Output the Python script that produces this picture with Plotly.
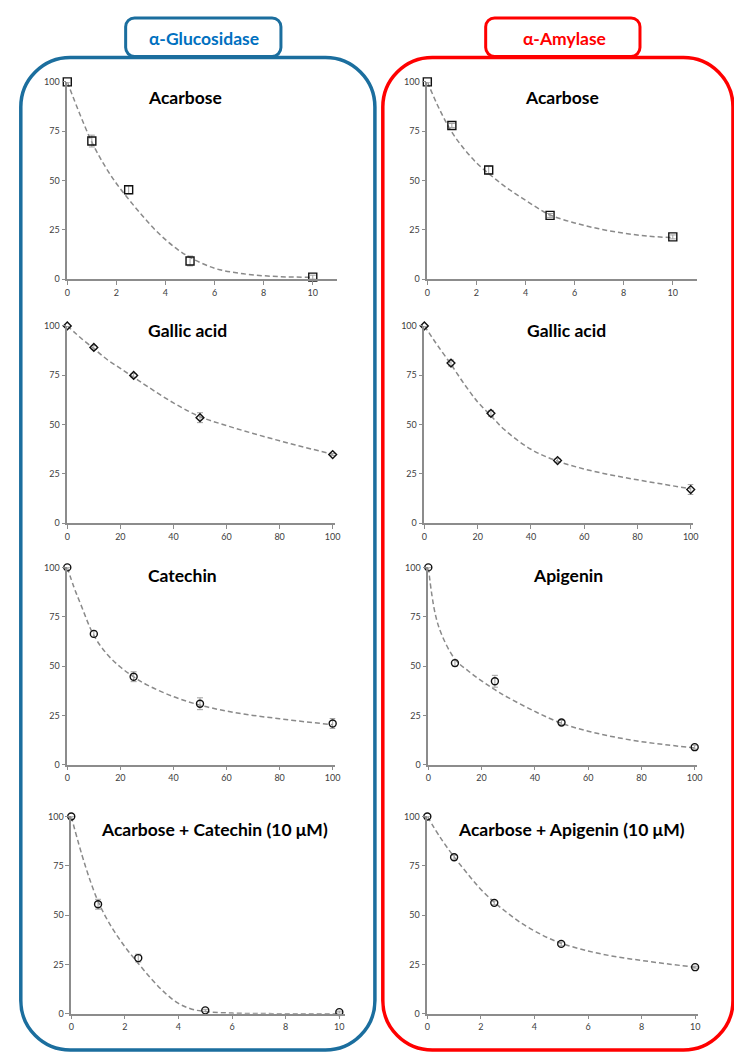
import plotly.graph_objects as go

W, H = 734, 1057

# ---------------- data ----------------
titles = ["Acarbose", "Acarbose", "Gallic acid", "Gallic acid",
          "Catechin", "Apigenin", "Acarbose + Catechin (10 μM)", "Acarbose + Apigenin (10 μM)"]

x_low = [0, 1, 2.5, 5, 10]
x_high = [0, 10, 25, 50, 100]

y_glu_acarbose = [100, 70, 45.3, 9.2, 1]
e_glu_acarbose = [0, 3, 2, 2.5, 1]
y_amy_acarbose = [100, 77.9, 55.3, 32.3, 21.4]
e_amy_acarbose = [0, 1, 2, 1, 1]
y_glu_gallic = [100, 89.1, 74.9, 53.5, 34.8]
e_glu_gallic = [0, 1, 1, 2.5, 0.5]
y_amy_gallic = [100, 81.2, 55.7, 31.8, 17.1]
e_amy_gallic = [0, 1.5, 1.5, 1, 2.5]
y_glu_catechin = [100, 66.3, 44.6, 30.9, 20.9]
e_glu_catechin = [0, 1.5, 2.5, 3, 2.5]
y_amy_apigenin = [100, 51.5, 42.3, 21.4, 8.9]
e_amy_apigenin = [0, 1.5, 3, 1, 1]
y_glu_combo = [100, 55.5, 28.2, 1.7, 0.8]
e_glu_combo = [0, 2.5, 2, 0.5, 0.5]
y_amy_combo = [100, 79.3, 56.2, 35.4, 23.6]
e_amy_combo = [0, 1, 1, 1, 0.5]

# dashed trend curves
cx_low = [0, 0.5, 1, 1.5, 2, 2.5, 3, 3.5, 4, 4.5, 5, 6, 7, 8, 9, 10]
cy_glu_acarbose = [100, 84, 69.5, 58, 48.5, 40.5, 33, 26, 20, 15, 11, 5.5, 3, 1.7, 1.1, 1]
cy_amy_acarbose = [100, 86, 74.5, 66, 59, 53.5, 48.5, 44, 40, 36, 32.5, 28.5, 25.5, 23.3, 21.8, 21]
cy_glu_combo = [100, 76, 57, 44, 34, 25.5, 17.5, 10.5, 5.2, 2.3, 1.1, 0.3, 0.1, 0, 0, 0]
cy_amy_combo = [100, 89, 79.5, 71, 63, 56.5, 51, 46, 42, 38.5, 35.7, 31.8, 29, 27, 25.2, 23.6]

cx_high = [0, 2.5, 5, 10, 15, 20, 25, 30, 40, 50, 60, 70, 80, 90, 100]
cy_glu_gallic = [100, 97, 94, 88.5, 83, 78.5, 74, 69.5, 61, 54, 49.5, 45.5, 41.8, 38.3, 35]
cy_amy_gallic = [100, 95, 90, 80.5, 70.5, 61.5, 54.5, 47.5, 37.5, 31.5, 27.5, 24.5, 22, 19.7, 17.5]
cy_glu_catechin = [100, 90, 81.5, 65.5, 56, 49.5, 44.5, 40.5, 34.5, 30.2, 27.2, 25, 23.3, 21.7, 20.3]
cy_amy_apigenin = [100, 77, 66, 53.5, 47.5, 42.5, 38, 34, 27, 21, 17, 14, 11.7, 10, 8.5]

# ---------------- layout geometry (pixels) ----------------
panels = [
    dict(x=x_low, y=y_glu_acarbose, e=e_glu_acarbose, cx=cx_low, cy=cy_glu_acarbose, sym="square-open", size=8,
         px0=65, px1=338, xmax=11, py100=76.7, py0=276, dtick=2, tx=184, ty=92),
    dict(x=x_low, y=y_amy_acarbose, e=e_amy_acarbose, cx=cx_low, cy=cy_amy_acarbose, sym="square-open", size=8,
         px0=429, px1=702, xmax=11, py100=76.7, py0=276, dtick=2, tx=565, ty=92),
    dict(x=x_high, y=y_glu_gallic, e=e_glu_gallic, cx=cx_high, cy=cy_glu_gallic, sym="diamond-open", size=6,
         px0=65, px1=336, xmax=101, py100=323.3, py0=522.7, dtick=20, tx=187, ty=328),
    dict(x=x_high, y=y_amy_gallic, e=e_amy_gallic, cx=cx_high, cy=cy_amy_gallic, sym="diamond-open", size=6,
         px0=426, px1=698, xmax=101, py100=323.3, py0=522.7, dtick=20, tx=570, ty=328),
    dict(x=x_high, y=y_glu_catechin, e=e_glu_catechin, cx=cx_high, cy=cy_glu_catechin, sym="circle-open", size=7,
         px0=65, px1=336, xmax=101, py100=567.3, py0=766.7, dtick=20, tx=181, ty=575),
    dict(x=x_high, y=y_amy_apigenin, e=e_amy_apigenin, cx=cx_high, cy=cy_amy_apigenin, sym="circle-open", size=7,
         px0=430, px1=702, xmax=101, py100=567.3, py0=766.7, dtick=20, tx=571, ty=575),
    dict(x=x_low, y=y_glu_combo, e=e_glu_combo, cx=cx_low, cy=cy_glu_combo, sym="circle-open", size=7,
         px0=69, px1=346, xmax=10.22, py100=819, py0=1018.3, dtick=2, tx=214, ty=832),
    dict(x=x_low, y=y_amy_combo, e=e_amy_combo, cx=cx_low, cy=cy_amy_combo, sym="circle-open", size=7,
         px0=429, px1=703, xmax=10.12, py100=819, py0=1018.3, dtick=2, tx=575, ty=832),
]


def px(x):
    return x / W


def py(y):
    return 1 - y / H


fig = go.Figure()
FONT = "Lato, 'Open Sans', sans-serif"

for i, p in enumerate(panels):
    k = "" if i == 0 else str(i + 1)
    xa, ya = "x" + k, "y" + k
    fig.add_trace(go.Scatter(x=p["cx"], y=p["cy"], mode="lines", line_shape="spline",
                             line=dict(color="#8a8a8a", width=1.5, dash="5px,3px"),
                             xaxis=xa, yaxis=ya, showlegend=False, hoverinfo="skip", cliponaxis=False))
    fig.add_trace(go.Scatter(x=p["x"], y=p["y"], mode="markers",
                             marker=dict(symbol=p["sym"], size=p["size"], color="#111111",
                                         line=dict(width=1.4, color="#111111")),
                             error_y=dict(type="data", array=p["e"], color="#a0a0a0", thickness=1, width=3),
                             xaxis=xa, yaxis=ya, showlegend=False, cliponaxis=False))
    axis_common = dict(showgrid=False, zeroline=False, showline=True, linecolor="#8c8c8c", linewidth=1.5,
                       ticks="outside", ticklen=4, tickwidth=1, tickcolor="#8c8c8c",
                       tickfont=dict(family=FONT, size=9, color="#404040"))
    fig.layout["xaxis" + k] = dict(domain=[px(p["px0"]), px(p["px1"])], range=[0, p["xmax"]],
                                   anchor=ya, tick0=0, dtick=p["dtick"], **axis_common)
    fig.layout["yaxis" + k] = dict(domain=[py(p["py0"]), py(p["py100"])], range=[0, 100],
                                   anchor=xa, tick0=0, dtick=25, **axis_common)
    fig.add_annotation(text="<b>" + titles[i] + "</b>", x=px(p["tx"]), y=py(p["ty"]),
                       xref="paper", yref="paper", showarrow=False, xanchor="center", yanchor="middle",
                       font=dict(family=FONT, size=17.5, color="black"))


def rr(x0, y0, x1, y1, r):
    c = 0.5523 * r
    pts = [
        f"M {px(x0 + r)},{py(y0)}",
        f"L {px(x1 - r)},{py(y0)}",
        f"C {px(x1 - r + c)},{py(y0)} {px(x1)},{py(y0 + r - c)} {px(x1)},{py(y0 + r)}",
        f"L {px(x1)},{py(y1 - r)}",
        f"C {px(x1)},{py(y1 - r + c)} {px(x1 - r + c)},{py(y1)} {px(x1 - r)},{py(y1)}",
        f"L {px(x0 + r)},{py(y1)}",
        f"C {px(x0 + r - c)},{py(y1)} {px(x0)},{py(y1 - r + c)} {px(x0)},{py(y1 - r)}",
        f"L {px(x0)},{py(y0 + r)}",
        f"C {px(x0)},{py(y0 + r - c)} {px(x0 + r - c)},{py(y0)} {px(x0 + r)},{py(y0)}",
        "Z",
    ]
    return " ".join(pts)


BLUE = "#1b6e9e"
RED = "#ff0000"
shapes = [
    dict(type="path", path=rr(18, 52, 376, 1055, 50), xref="paper", yref="paper",
         line=dict(color=BLUE, width=3.5), layer="below"),
    dict(type="path", path=rr(384, 52, 738, 1055, 50), xref="paper", yref="paper",
         line=dict(color=RED, width=3.5), layer="below"),
    dict(type="path", path=rr(124, 12, 281, 51, 9), xref="paper", yref="paper",
         line=dict(color=BLUE, width=3), fillcolor="white", layer="below"),
    dict(type="path", path=rr(488, 12, 644, 51, 9), xref="paper", yref="paper",
         line=dict(color=RED, width=3), fillcolor="white", layer="below"),
]
fig.update_layout(shapes=shapes)

fig.add_annotation(text="<b>α-Glucosidase</b>", x=px(203), y=py(33), xref="paper", yref="paper",
                   xanchor="center", yanchor="middle",
                   showarrow=False, font=dict(family=FONT, size=17.5, color="#0070c0"))
fig.add_annotation(text="<b>α-Amylase</b>", x=px(568), y=py(33), xref="paper", yref="paper",
                   xanchor="center", yanchor="middle",
                   showarrow=False, font=dict(family=FONT, size=17.5, color=RED))

fig.update_layout(width=W, height=H, margin=dict(l=0, r=0, t=0, b=0),
                  paper_bgcolor="white", plot_bgcolor="white", showlegend=False)

fig.write_html("out.html")
